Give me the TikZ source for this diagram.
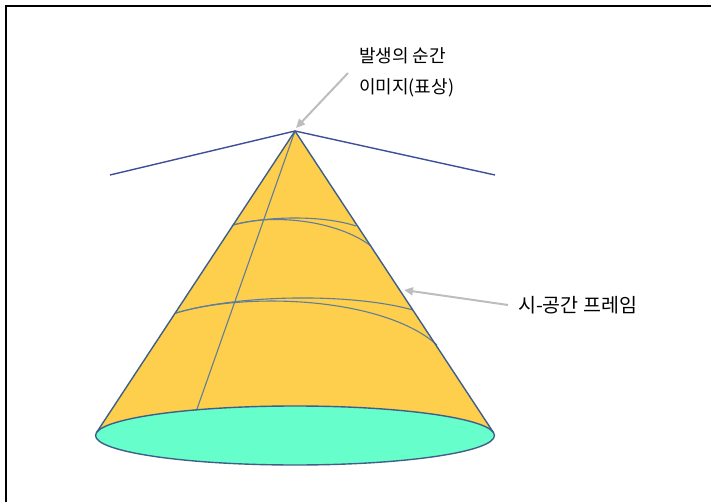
\documentclass[tikz,border=0pt]{standalone}
\usepackage{fontspec}
\setmainfont{Noto Sans CJK KR}
\usetikzlibrary{arrows.meta}
\definecolor{conefill}{HTML}{FDCF4C}
\definecolor{basefill}{HTML}{66FFCC}
\definecolor{coneedge}{HTML}{3F5F88}
\definecolor{horizon}{HTML}{3E4E98}
\definecolor{inner}{HTML}{607D99}
\definecolor{pointer}{HTML}{BDBDBD}
\tikzset{
  edgeline/.style={draw=coneedge, line width=1.4pt},
  innerline/.style={draw=inner, line width=1.1pt},
  horizonline/.style={draw=horizon, line width=1.4pt},
  pointerarrow/.style={draw=pointer, line width=2pt, -{Triangle[length=9pt,width=8pt]}},
  label/.style={font=\fontsize{18}{31}\selectfont, text=black, inner sep=0pt, anchor=north west, align=left}
}
\begin{document}
\begin{tikzpicture}[x=1pt,y=-1pt]
\useasboundingbox (0,0) rectangle (711,502);
% frame
\draw[black, line width=1.5pt] (6,502) -- (6,6) -- (711,6);
% key points
\coordinate (apex) at (295,131);
\coordinate (tl) at (96.5,432.6);
\coordinate (tr) at (493.5,432.6);
\coordinate (hl) at (110,175);
\coordinate (hr) at (495,175);
% horizon
\draw[horizonline] (hl) -- (apex) -- (hr);
% cone body
\fill[conefill] (apex) -- (tl) -- (tr) -- cycle;
% inner lines
\draw[innerline] (apex) -- (197,409);
\draw[innerline] (233,225) .. controls (268,216) and (322,215) .. (356,226);
\draw[innerline] (233,225) .. controls (275,213) and (338,221) .. (371,246);
\draw[innerline] (176,313) .. controls (240,294) and (352,293) .. (413,310);
\draw[innerline] (176,313) .. controls (250,291) and (385,298) .. (437,345);
% cone edges
\draw[edgeline, line join=round] (tl) -- (apex) -- (tr);
% base
\draw[edgeline, fill=basefill] (295,435.5) ellipse [x radius=199.5, y radius=29.5];
% labels
\node[label] (lab1) at (359,47) {발생의 순간\\이미지(표상)};
\node[label, font=\fontsize{19.5}{31}\selectfont] (lab2) at (518,296) {시-공간 프레임};
\coordinate (a1s) at (348,73);
\coordinate (a2s) at (508,305);
\coordinate (a2e) at (404,290);
\draw[pointerarrow] (a1s) -- ([shift={(1,-3)}]apex);
\draw[pointerarrow] (a2s) -- (a2e);
\end{tikzpicture}
\end{document}
